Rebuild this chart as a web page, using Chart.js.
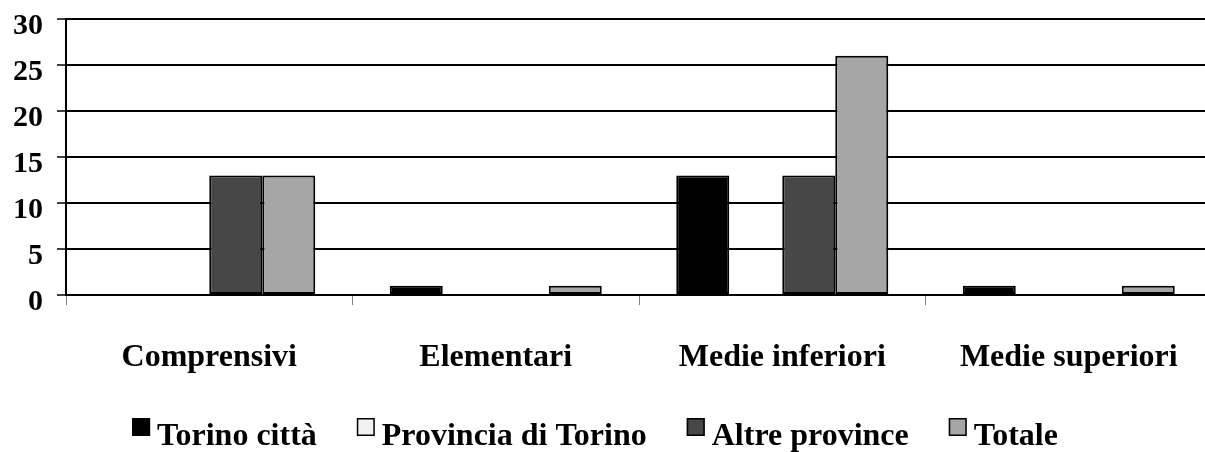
<!DOCTYPE html>
<html><head><meta charset="utf-8">
<script src="https://cdn.jsdelivr.net/npm/chart.js@4"></script>
<style>html,body{margin:0;padding:0;overflow:hidden;background:#fff}
#wrap{width:1212px;height:452px;position:relative}</style></head>
<body><div id="wrap"><canvas id="c"></canvas></div>
<script>
const categories = ['Comprensivi', 'Elementari', 'Medie inferiori', 'Medie superiori'];
const seriesNames = ['Torino città', 'Provincia di Torino', 'Altre province', 'Totale'];
const torinoCitta = [0, 1, 13, 1];
const provinciaTorino = [0, 0, 0, 0];
const altreProvince = [13, 0, 13, 0];
const totale = [13, 1, 26, 1];
const yTickValues = [0, 5, 10, 15, 20, 25, 30];
const seriesColors = ['#000000', '#f2f2f2', '#474747', '#a6a6a6'];

const FONT = '"Liberation Serif", "Times New Roman", serif';
const seriesData = [torinoCitta, provinciaTorino, altreProvince, totale];

const legendPlugin = {
  id: 'customLegend',
  afterDraw(chart) {
    const ctx = chart.ctx;
    ctx.save();
    ctx.font = 'bold 32px ' + FONT;
    const box = 18, gap = 7, spacing = 40;
    const items = chart.data.datasets.map(d => ({ t: d.label, c: d.backgroundColor, w: ctx.measureText(d.label).width }));
    const total = items.reduce((a, i) => a + box + gap + i.w, 0) + spacing * (items.length - 1);
    let x = chart.width / 2 - 11 - total / 2;
    const baseline = chart.height - 7;
    ctx.textBaseline = 'alphabetic';
    ctx.textAlign = 'left';
    items.forEach(it => {
      ctx.fillStyle = it.c;
      ctx.fillRect(x, baseline - 27, box, box);
      ctx.strokeStyle = '#000';
      ctx.lineWidth = 1.5;
      ctx.strokeRect(x + 0.75, baseline - 27 + 0.75, box - 1.5, box - 1.5);
      ctx.fillStyle = '#000';
      ctx.fillText(it.t, x + box + gap, baseline);
      x += box + gap + it.w + spacing;
    });
    ctx.restore();
  }
};

new Chart(document.getElementById('c'), {
  type: 'bar',
  data: {
    labels: categories,
    datasets: seriesNames.map((n, i) => ({
      label: n,
      data: seriesData[i],
      backgroundColor: seriesColors[i],
      borderColor: '#000',
      borderWidth: 2,
      borderSkipped: false,
      categoryPercentage: 0.74,
      barPercentage: 1.0
    }))
  },
  options: {
    responsive: true,
    maintainAspectRatio: false,
    animation: false,
    devicePixelRatio: 1,
    layout: { padding: { top: 19, left: 0, right: 0, bottom: 0 } },
    plugins: { legend: { display: false }, tooltip: { enabled: false } },
    scales: {
      x: {
        grid: { drawOnChartArea: false, drawTicks: true, tickLength: 10, color: '#808080', lineWidth: 1, offset: true },
        border: { display: true, color: '#000', width: 2 },
        ticks: { font: { family: FONT, size: 32, weight: 'bold' }, color: '#000', padding: 34, maxRotation: 0 },
        afterFit: s => { s.height = 157; s.paddingLeft = 0; s.paddingRight = 0; }
      },
      y: {
        min: 0, max: 30,
        afterBuildTicks: s => { s.ticks = yTickValues.map(v => ({ value: v })); },
        grid: { color: '#000', lineWidth: 2, tickLength: 9, tickColor: '#000', tickWidth: 1.5 },
        border: { display: true, color: '#000', width: 2 },
        ticks: {
          font: { family: FONT, size: 30, weight: 'bold' },
          color: '#000', padding: 14, labelOffset: 7
        },
        afterFit: s => { s.width = 66; s.paddingTop = 0; s.paddingBottom = 0; }
      }
    }
  },
  plugins: [legendPlugin]
});
</script></body></html>
